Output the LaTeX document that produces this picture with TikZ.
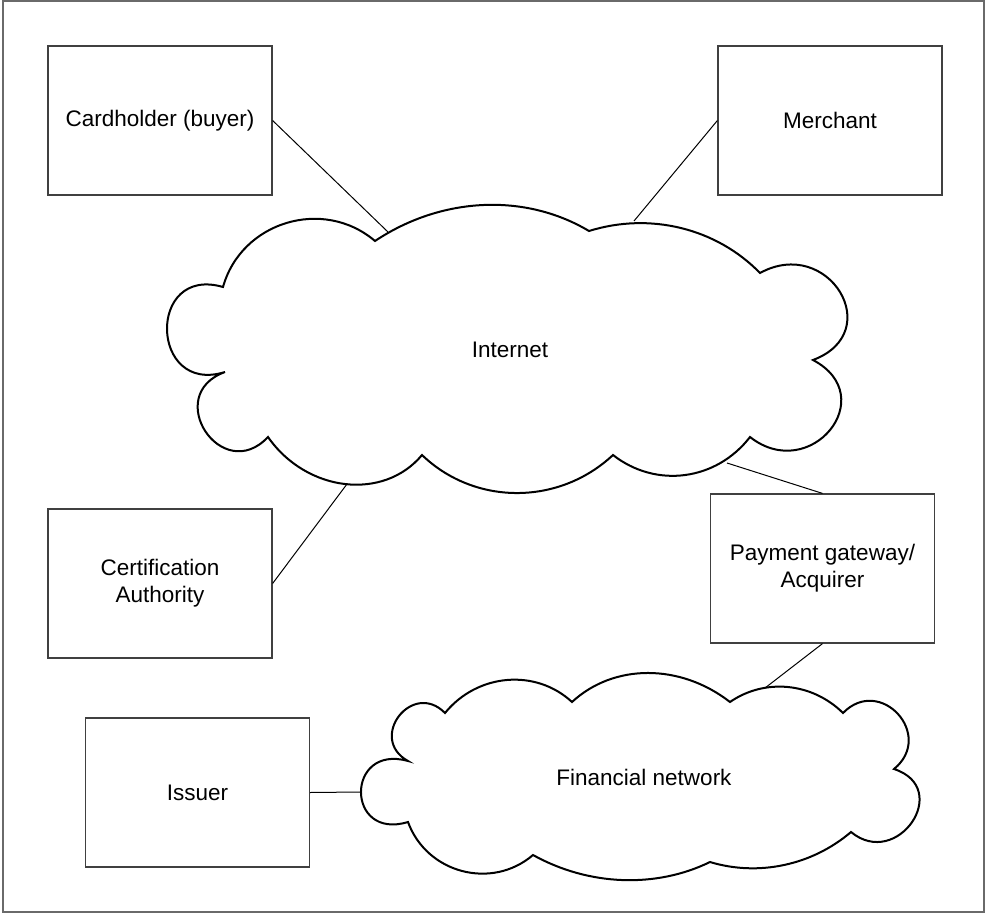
\documentclass[tikz,border=0pt]{standalone}
\usepackage{fontspec}
\setmainfont{Liberation Sans}
\definecolor{boxcol}{HTML}{404040}
\definecolor{framecol}{HTML}{6A6A6A}
\begin{document}
\begin{tikzpicture}[x=1pt,y=-1pt,
  txt/.style={font=\fontsize{22.5}{27}\selectfont, align=center},
  box/.style={txt, draw=boxcol, line width=1.2pt, minimum width=224pt, minimum height=149pt, inner sep=0pt},
  lbl/.style={txt, inner sep=0pt},
  cloudline/.style={draw=black, line width=2pt, line join=miter},
  link/.style={draw=black, line width=1pt}]
\useasboundingbox (0,0) rectangle (986,913);
\draw[framecol, line width=1.4pt] (3,1) rectangle (984,912);

% boxes
\node[box] (card)  at (160,120.5) {Cardholder (buyer)};
\node[box] (merch) at (830,120.5) {Merchant};
\node[box] (ca)    at (160,583.5) {Certification\\Authority};
\node[box] (pay)   at (822.5,568.5) {Payment gateway/\\Acquirer};
\node[box] (iss)   at (197.5,792.5) {Issuer};

% Internet cloud
\draw[cloudline] (375,241)
  .. controls (441.6,196.6) and (525.0,192.8) .. (589,231)
  .. controls (650.0,211.9) and (716.4,228.2) .. (760,273)
  .. controls (828.4,235.5) and (887.2,332.1) .. (813,360)
  .. controls (882.1,396.6) and (810.3,484.4) .. (750,437)
  .. controls (716.3,480.7) and (656.1,488.7) .. (613,455)
  .. controls (558.8,505.7) and (474.8,505.7) .. (422,455)
  .. controls (383.5,501.2) and (306.5,492.2) .. (268,437)
  .. controls (221.9,486) and (161.7,395) .. (225,372)
  .. controls (149.5,395.6) and (146.5,264.7) .. (223,287)
  .. controls (241.3,221.7) and (323.3,196.9) .. (375,241)
  -- cycle;
\node[lbl] (inet) at (510,350) {Internet};

% Financial network cloud
\draw[cloudline] (408,761)
  .. controls (367.2,738.3) and (412.4,679.7) .. (445,713)
  .. controls (477.3,673.3) and (535.7,668.3) .. (572,702)
  .. controls (613.8,663.3) and (680.2,663.3) .. (730,702)
  .. controls (764.8,677.9) and (812.2,682.5) .. (843,713)
  .. controls (880.3,674.8) and (935.3,735.2) .. (894,769)
  .. controls (953.2,788.3) and (897.3,870.2) .. (851,832)
  .. controls (812,865.3) and (758.4,876.7) .. (710,862)
  .. controls (655.8,888.5) and (588.6,885.9) .. (533,855)
  .. controls (491.7,890.4) and (426.7,873.2) .. (408,822)
  .. controls (345.3,841) and (345.3,743.4) .. (408,761)
  -- cycle;
\node[lbl] (fin) at (644,777) {Financial network};

% attachment points on the clouds
\coordinate (iA) at (388,232);
\coordinate (iB) at (634,221);
\coordinate (iC) at (347,484);
\coordinate (iD) at (727,463);
\coordinate (fA) at (765,688);
\coordinate (fB) at (361,792);

% connectors
\draw[link] (card.east) -- (iA);
\draw[link] (merch.west) -- (iB);
\draw[link] (ca.east) -- (iC);
\draw[link] (pay.north) -- (iD);
\draw[link] (pay.south) -- (fA);
\draw[link] (iss.east) -- (fB);
\end{tikzpicture}
\end{document}
